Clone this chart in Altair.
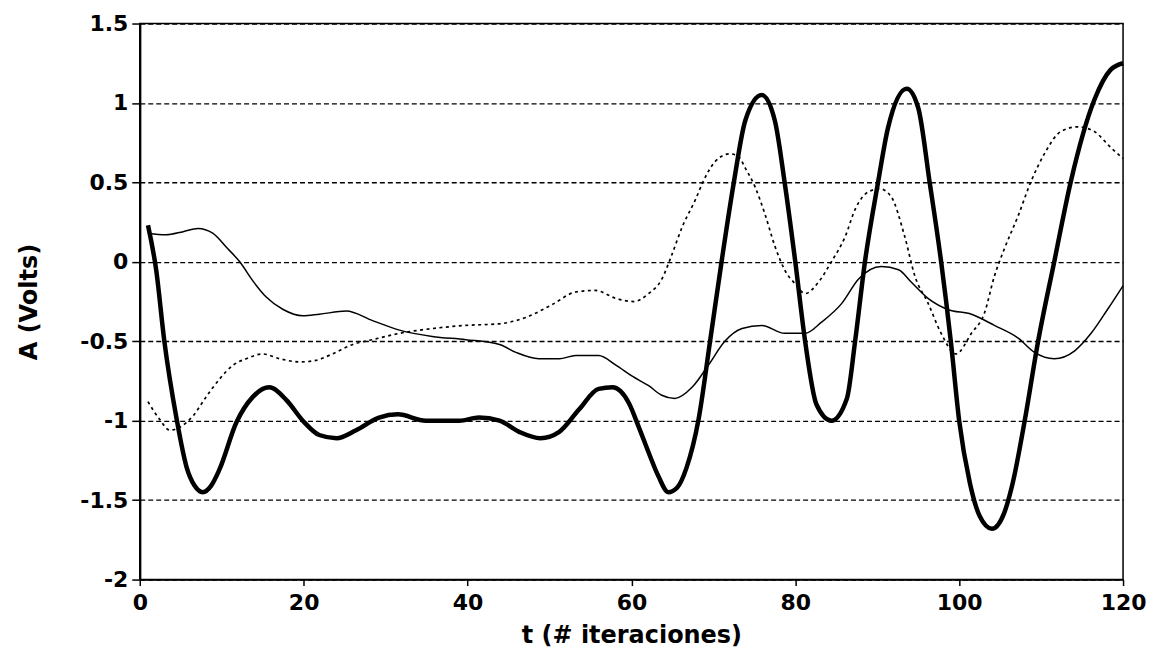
import altair as alt
import pandas as pd

# Thick solid series
t_thick = [1, 2, 3, 4.5, 5.7, 6.7, 7.7, 8.7, 9.7, 11.8, 13.8, 15.8, 17.9, 19.9, 21.9, 24, 26.4,
           29.2, 31.5, 34.9, 39, 41.4, 43.9, 46.3, 48.9, 51.2, 53.6, 56, 57.7, 59.7, 60.9, 62.1,
           63.3, 64.5, 65.6, 66.7, 68.2, 69.6, 71, 72.5, 73.9, 75.9, 77.5, 78.7, 80, 81.2, 82.6,
           84.4, 86.3, 87.3, 88.5, 90.1, 91.3, 93.6, 95, 96.4, 97.8, 99, 100, 101.3, 102.5, 104,
           105.5, 106.5, 108, 109.6, 111.6, 113.6, 116.5, 118.5, 120]
v_thick = [0.23, -0.05, -0.5, -0.99, -1.29, -1.41, -1.45, -1.41, -1.31, -1.01, -0.85, -0.79, -0.87,
           -1.0, -1.09, -1.11, -1.06, -0.98, -0.96, -1.0, -1.0, -0.98, -1.0, -1.07, -1.11, -1.07,
           -0.93, -0.8, -0.79, -0.89, -1.04, -1.2, -1.35, -1.45, -1.42, -1.3, -0.99, -0.5, 0.0,
           0.5, 0.89, 1.05, 0.89, 0.5, 0.0, -0.5, -0.9, -1.0, -0.86, -0.5, 0.0, 0.5, 0.84, 1.09,
           0.97, 0.5, 0.0, -0.51, -1.0, -1.39, -1.6, -1.68, -1.58, -1.4, -1.0, -0.51, 0.0, 0.5,
           1.02, 1.21, 1.25]

# Thin solid series
t_thin = [1, 3.2, 5.3, 7.1, 8.9, 10.6, 12.2, 13.8, 15.4, 17.5, 19.9, 21.9, 25.2, 28.4, 31.7, 35.7,
          39.8, 43.9, 45.9, 48.7, 51.2, 53.2, 56, 58.1, 60.1, 62.1, 63.7, 65.3, 67.4, 69.4, 71.4,
          73.5, 75.9, 78.7, 81.2, 83.2, 85.7, 87.7, 90.5, 92.6, 94.2, 96.2, 98.6, 101.5, 104.3,
          107.2, 109.2, 111.6, 114.1, 116.1, 118.1, 120]
v_thin = [0.18, 0.17, 0.19, 0.21, 0.18, 0.09, 0.0, -0.12, -0.22, -0.30, -0.34, -0.33, -0.31, -0.37,
          -0.43, -0.47, -0.49, -0.52, -0.57, -0.61, -0.61, -0.59, -0.59, -0.65, -0.72, -0.78,
          -0.84, -0.86, -0.79, -0.65, -0.5, -0.42, -0.40, -0.45, -0.45, -0.38, -0.26, -0.11,
          -0.03, -0.05, -0.13, -0.23, -0.30, -0.33, -0.40, -0.48, -0.57, -0.61, -0.56, -0.45,
          -0.30, -0.15]

# Dotted series
t_dot = [1, 2.4, 3.7, 4.9, 6.5, 8.1, 9.7, 11.4, 13, 15, 17.1, 19.5, 21.5, 23.5, 26, 28.4, 31.7,
         35.7, 39.8, 43.9, 47.1, 50.3, 53.2, 55.6, 58.1, 60.3, 62.1, 63.7, 64.9, 66.2, 67.8, 68.8,
         70.2, 72, 73.1, 73.9, 75.1, 76.3, 77.5, 78.7, 80, 81.2, 82.8, 84.4, 86.1, 87.3, 88.9,
         90.3, 91.7, 93.3, 94.6, 96.2, 97.8, 99.6, 101.5, 103.1, 104.3, 105.5, 107.2, 108.8,
         110.4, 112.4, 114.5, 116.5, 118.5, 120]
v_dot = [-0.88, -0.99, -1.06, -1.04, -0.97, -0.85, -0.74, -0.65, -0.61, -0.58, -0.61, -0.63, -0.62,
         -0.58, -0.52, -0.49, -0.45, -0.42, -0.40, -0.39, -0.35, -0.27, -0.19, -0.18, -0.23,
         -0.25, -0.2, -0.11, 0.04, 0.22, 0.39, 0.51, 0.63, 0.68, 0.66, 0.59, 0.47, 0.30, 0.10,
         -0.05, -0.14, -0.2, -0.13, 0.0, 0.16, 0.33, 0.44, 0.46, 0.41, 0.17, -0.09, -0.26, -0.45,
         -0.58, -0.45, -0.32, -0.09, 0.08, 0.29, 0.51, 0.68, 0.82, 0.85, 0.82, 0.72, 0.65]

x_ticks = [0, 20, 40, 60, 80, 100, 120]
y_ticks = [-2, -1.5, -1, -0.5, 0, 0.5, 1, 1.5]

df_thick = pd.DataFrame({"t": t_thick, "v": v_thick})
df_thin = pd.DataFrame({"t": t_thin, "v": v_thin})
df_dot = pd.DataFrame({"t": t_dot, "v": v_dot})

FONT = "DejaVu Sans"

x_enc = alt.X("t:Q", scale=alt.Scale(domain=[0, 120], nice=False, zero=False),
              axis=alt.Axis(values=x_ticks, title="t (# iteraciones)", grid=False,
                            labelFont=FONT, labelFontSize=22, labelFontWeight="bold",
                            labelColor="black",
                            titleFont=FONT, titleFontSize=24, titleColor="black",
                            titleFontWeight="bold", domainColor="black", domainWidth=1.5,
                            tickColor="black", tickSize=6, tickWidth=1.5, labelPadding=7,
                            titlePadding=10, labelFlush=False))
y_enc = alt.Y("v:Q", scale=alt.Scale(domain=[-2, 1.5], nice=False, zero=False),
              axis=alt.Axis(values=y_ticks, title="A (Volts)", grid=True,
                            gridColor="black", gridDash=[5, 3], gridWidth=1.3, gridOpacity=1,
                            labelExpr="'' + datum.value",
                            labelFont=FONT, labelFontSize=22, labelFontWeight="bold",
                            labelColor="black",
                            titleFont=FONT, titleFontSize=24, titleColor="black",
                            titleFontWeight="bold", domainColor="black", domainWidth=2.2,
                            tickColor="black", tickSize=8, tickWidth=1.5, labelPadding=4,
                            titlePadding=38))

thick = alt.Chart(df_thick).mark_line(color="black", strokeWidth=4.5, interpolate="monotone").encode(
    x=x_enc, y=y_enc)
thin = alt.Chart(df_thin).mark_line(color="black", strokeWidth=1.5, interpolate="monotone").encode(
    x="t:Q", y="v:Q")
dot = alt.Chart(df_dot).mark_line(color="black", strokeWidth=1.7, strokeDash=[3, 3.5],
                                  interpolate="monotone").encode(x="t:Q", y="v:Q")

chart = alt.layer(dot, thin, thick).properties(
    width=985, height=557,
    autosize=alt.AutoSizeParams(type="none"),
    padding={"left": 132, "top": 15, "right": 28, "bottom": 70},
    background="white",
).configure_view(stroke="black", strokeWidth=1.5)

chart.save("out.html", embed_options={"renderer": "svg", "actions": False})
